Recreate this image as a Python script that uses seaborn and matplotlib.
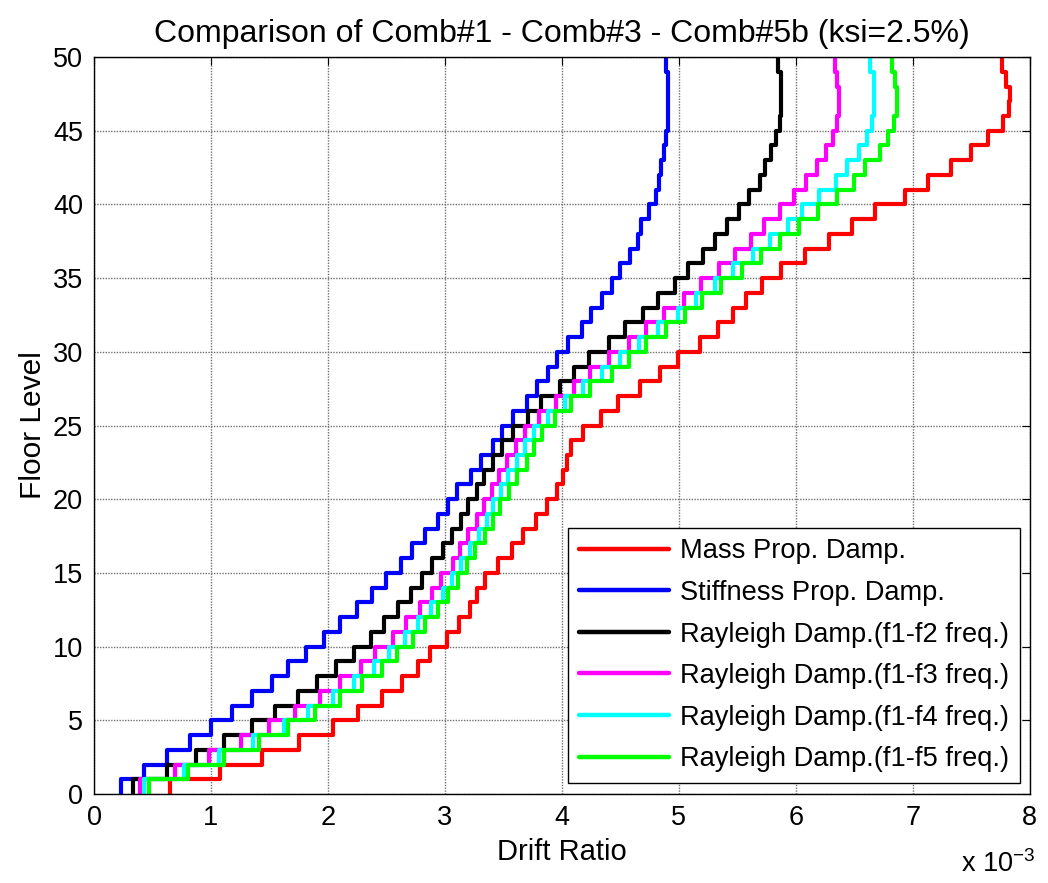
import numpy as np
import pandas as pd
import matplotlib
matplotlib.use("Agg")
import matplotlib.pyplot as plt
import seaborn as sns

# drift ratio (x 1e-3) per storey, floors 1..50
floors = np.arange(0, 51)
mass_prop = [0.65, 1.08, 1.44, 1.75, 2.04, 2.26, 2.46, 2.63, 2.77, 2.87,
             3.02, 3.12, 3.21, 3.27, 3.34, 3.45, 3.57, 3.67, 3.78, 3.87,
             3.96, 4.01, 4.04, 4.08, 4.18, 4.33, 4.48, 4.67, 4.84, 4.99,
             5.18, 5.33, 5.46, 5.57, 5.71, 5.87, 6.08, 6.28, 6.48, 6.68,
             6.93, 7.13, 7.33, 7.50, 7.64, 7.77, 7.82, 7.83, 7.80, 7.76]
stiff_prop = [0.23, 0.43, 0.62, 0.82, 1.00, 1.18, 1.35, 1.52, 1.66, 1.81,
              1.97, 2.10, 2.25, 2.38, 2.50, 2.62, 2.72, 2.83, 2.94, 3.03,
              3.10, 3.22, 3.31, 3.41, 3.49, 3.58, 3.70, 3.79, 3.88, 3.96,
              4.05, 4.17, 4.25, 4.34, 4.43, 4.50, 4.58, 4.65, 4.68, 4.74,
              4.80, 4.83, 4.85, 4.87, 4.89, 4.91, 4.91, 4.91, 4.91, 4.89]
rayleigh_f2 = [0.33, 0.62, 0.87, 1.11, 1.35, 1.55, 1.74, 1.91, 2.07, 2.22,
               2.37, 2.48, 2.60, 2.71, 2.80, 2.89, 2.98, 3.06, 3.14, 3.20,
               3.27, 3.33, 3.41, 3.49, 3.58, 3.71, 3.82, 3.98, 4.10, 4.23,
               4.40, 4.54, 4.69, 4.82, 4.97, 5.08, 5.21, 5.31, 5.41, 5.51,
               5.60, 5.69, 5.74, 5.79, 5.83, 5.86, 5.87, 5.87, 5.87, 5.85]
rayleigh_f3 = [0.39, 0.69, 0.98, 1.26, 1.50, 1.72, 1.93, 2.10, 2.28, 2.40,
               2.56, 2.67, 2.79, 2.89, 2.97, 3.07, 3.13, 3.20, 3.27, 3.33,
               3.40, 3.46, 3.53, 3.61, 3.68, 3.80, 3.95, 4.10, 4.24, 4.40,
               4.57, 4.72, 4.87, 5.04, 5.19, 5.34, 5.48, 5.62, 5.73, 5.86,
               5.98, 6.09, 6.18, 6.26, 6.32, 6.35, 6.37, 6.37, 6.35, 6.33]
rayleigh_f4 = [0.43, 0.77, 1.07, 1.36, 1.62, 1.83, 2.04, 2.22, 2.39, 2.52,
               2.66, 2.77, 2.88, 2.98, 3.06, 3.14, 3.21, 3.29, 3.36, 3.41,
               3.48, 3.54, 3.62, 3.68, 3.76, 3.88, 4.03, 4.18, 4.34, 4.50,
               4.66, 4.82, 4.99, 5.15, 5.31, 5.46, 5.63, 5.78, 5.93, 6.05,
               6.20, 6.34, 6.44, 6.54, 6.61, 6.65, 6.67, 6.67, 6.67, 6.63]
rayleigh_f5 = [0.47, 0.80, 1.11, 1.41, 1.66, 1.89, 2.10, 2.29, 2.46, 2.59,
               2.73, 2.83, 2.94, 3.03, 3.11, 3.19, 3.26, 3.34, 3.41, 3.47,
               3.55, 3.62, 3.70, 3.76, 3.83, 3.94, 4.08, 4.24, 4.43, 4.57,
               4.72, 4.89, 5.05, 5.20, 5.36, 5.54, 5.70, 5.86, 6.03, 6.19,
               6.35, 6.50, 6.59, 6.72, 6.79, 6.84, 6.86, 6.86, 6.85, 6.82]

labels = ["Mass Prop. Damp.", "Stiffness Prop. Damp.",
          "Rayleigh Damp.(f1-f2 freq.)", "Rayleigh Damp.(f1-f3 freq.)",
          "Rayleigh Damp.(f1-f4 freq.)", "Rayleigh Damp.(f1-f5 freq.)"]
colors = ["#ff0000", "#0000ff", "#000000", "#ff00ff", "#00ffff", "#00ff00"]
series = [mass_prop, stiff_prop, rayleigh_f2, rayleigh_f3, rayleigh_f4, rayleigh_f5]

# stairs: each storey value spans from floor i-1 to floor i
rows = []
for lab, vals in zip(labels, series):
    for i, v in enumerate(vals):
        rows.append((lab, v, floors[i]))
        rows.append((lab, v, floors[i + 1]))
df = pd.DataFrame(rows, columns=["case", "drift", "floor"])

sns.set_style("white")
plt.rcParams["font.family"] = ["Liberation Sans", "DejaVu Sans"]
plt.rcParams["mathtext.default"] = "regular"
plt.rcParams["text.color"] = "black"
plt.rcParams["axes.labelcolor"] = "black"

fig = plt.figure(figsize=(10.48, 8.83), dpi=100)
ax = fig.add_axes([0.0897, 0.1008, 0.893, 0.8346])

sns.lineplot(data=df, x="drift", y="floor", hue="case", hue_order=labels,
             palette=colors, sort=False, estimator=None, linewidth=3.0, ax=ax)

ax.set_xlim(0, 8)
ax.set_ylim(0, 50)
ax.set_xticks(range(0, 9))
ax.set_yticks(range(0, 51, 5))
ax.grid(True, color="#707070", linestyle=(0, (1, 1)), linewidth=1.0)
ax.tick_params(direction="in", top=True, right=True, length=6, width=0.8,
               labelsize=19.5, pad=8, colors="black")
for sp in ax.spines.values():
    sp.set_color("black")
    sp.set_linewidth(1.0)

ax.set_xlabel("Drift Ratio", fontsize=21, labelpad=5, color="black")
ax.set_ylabel("Floor Level", fontsize=21.5, labelpad=4, color="black")
ax.set_title("Comparison of Comb#1 - Comb#3 - Comb#5b (ksi=2.5%)",
             fontsize=23, pad=11, color="black")

handles, labs = ax.get_legend_handles_labels()
for h in handles:
    h.set_linewidth(3.2)
leg = ax.legend(handles, labs, loc="lower right", bbox_to_anchor=(0.989, 0.015),
                borderaxespad=0, fontsize=19.6, frameon=True, fancybox=False,
                edgecolor="black", framealpha=1, handlelength=3.3,
                handletextpad=0.4, labelspacing=0.57, borderpad=0.4)
leg.get_frame().set_linewidth(1.0)

fig.text(0.917, 0.006, r"x 10$^{-3}$", fontsize=19.5, ha="left", va="bottom")

fig.savefig("out.png", dpi=100, facecolor="white")
